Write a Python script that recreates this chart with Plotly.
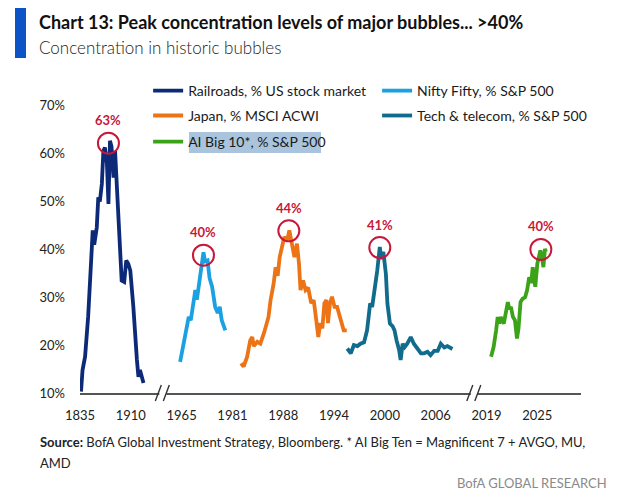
import plotly.graph_objects as go

# broken time axis: position 0..9 carries the labels below
tick_pos = list(range(10))
tick_years = ["1835", "1910", "1965", "1981", "1988", "1994", "2000", "2006", "2019", "2025"]
y_ticks = [10, 20, 30, 40, 50, 60, 70]

# concentration, %
rail_t = [0.02, 0.05, 0.10, 0.16, 0.23, 0.25, 0.28, 0.33, 0.36, 0.39, 0.43, 0.46, 0.49, 0.53, 0.56,
          0.59, 0.62, 0.66, 0.69, 0.72, 0.76, 0.82, 0.87, 0.91, 0.95, 0.99, 1.05, 1.08, 1.12, 1.15,
          1.18, 1.25]
rail_v = [10.3, 14.8, 17.6, 25.9, 39.8, 44.0, 41.0, 44.6, 50.9, 50.0, 53.7, 60.6, 61.3, 58.0, 49.5,
          62.7, 61.5, 55.0, 60.6, 55.0, 46.8, 33.5, 33.2, 37.7, 37.0, 35.6, 28.0, 22.5, 16.9, 13.4,
          14.8, 12.1]

nifty_t = [1.97, 2.03, 2.10, 2.14, 2.18, 2.24, 2.27, 2.30, 2.35, 2.40, 2.43, 2.46, 2.51, 2.55, 2.60,
           2.66, 2.71, 2.75, 2.79, 2.86]
nifty_v = [16.5, 19.6, 23.8, 25.9, 25.2, 29.4, 31.5, 29.5, 33.5, 37.0, 39.4, 37.5, 37.7, 34.0, 32.2,
           28.0, 26.7, 28.0, 25.2, 23.1]

japan_t = [3.17, 3.22, 3.29, 3.35, 3.39, 3.42, 3.49, 3.55, 3.62, 3.71, 3.75, 3.81, 3.85, 3.89, 3.93,
           3.98, 4.02, 4.08, 4.12, 4.17, 4.22, 4.27, 4.31, 4.34, 4.39, 4.44, 4.49, 4.55, 4.60, 4.65,
           4.69, 4.73, 4.77, 4.81, 4.85, 4.88, 4.92, 4.96, 5.01, 5.06, 5.11, 5.16, 5.19, 5.25]
japan_v = [16.2, 15.5, 17.6, 21.0, 21.7, 19.8, 20.7, 20.3, 22.5, 25.9, 29.4, 32.8, 36.3, 34.5, 38.4,
           41.2, 42.6, 42.0, 44.0, 41.2, 38.4, 41.2, 37.0, 31.5, 33.5, 31.5, 32.0, 28.8, 29.4, 25.2,
           21.7, 24.6, 23.5, 28.8, 29.4, 24.6, 28.8, 30.1, 28.0, 28.0, 25.9, 24.6, 23.1, 23.1]

tech_t = [5.26, 5.33, 5.39, 5.46, 5.52, 5.59, 5.65, 5.71, 5.75, 5.80, 5.85, 5.90, 5.93, 5.97, 6.02,
          6.05, 6.10, 6.15, 6.19, 6.23, 6.28, 6.31, 6.35, 6.39, 6.44, 6.51, 6.57, 6.64, 6.71, 6.77,
          6.84, 6.90, 6.97, 7.04, 7.10, 7.17, 7.23, 7.33]
tech_v = [19.3, 18.3, 20.0, 19.8, 20.3, 20.6, 23.1, 28.7, 28.0, 31.5, 35.6, 40.5, 38.0, 39.5, 34.9,
          28.7, 24.5, 24.0, 23.1, 21.0, 19.0, 16.9, 20.3, 19.6, 20.3, 21.7, 20.3, 19.3, 18.3, 18.3,
          18.6, 17.9, 18.8, 18.8, 20.3, 19.5, 19.8, 19.2]

ai_t = [8.09, 8.14, 8.19, 8.22, 8.25, 8.28, 8.34, 8.38, 8.42, 8.45, 8.48, 8.52, 8.56, 8.60, 8.63,
        8.67, 8.71, 8.76, 8.80, 8.84, 8.88, 8.91, 8.96, 9.00, 9.03, 9.06, 9.09, 9.12, 9.15, 9.17]
ai_v = [17.6, 19.6, 23.1, 25.9, 24.5, 25.9, 24.5, 26.6, 29.0, 27.5, 28.0, 25.9, 25.2, 21.4, 23.5,
        29.0, 29.7, 30.0, 31.5, 34.2, 33.0, 36.3, 32.2, 37.0, 38.4, 39.8, 38.5, 36.3, 40.1, 39.5]

peak_t = [0.56, 2.43, 4.11, 5.90, 9.07]
peak_v = [62.2, 38.8, 43.9, 40.4, 40.0]
peak_labels = ["63%", "40%", "44%", "41%", "40%"]

series = [
    ("Railroads, % US stock market", rail_t, rail_v, "#0c2a78"),
    ("Nifty Fifty, % S&P 500", nifty_t, nifty_v, "#1ba1e2"),
    ("Japan, % MSCI ACWI", japan_t, japan_v, "#ec7417"),
    ("Tech & telecom, % S&P 500", tech_t, tech_v, "#106b8c"),
    ("AI Big 10*, % S&P 500", ai_t, ai_v, "#3aa318"),
]
# legend slot of each series: (column x, row y) in plot-area fractions
legend_slots = [(0.136, 0.971), (0.593, 0.971), (0.136, 0.891), (0.593, 0.891), (0.136, 0.807)]

FONT = "Lato"
RED = "#c8173a"

fig = go.Figure()
legends = {}
for i, (name, t, v, col) in enumerate(series):
    key = "legend" if i == 0 else "legend%d" % (i + 1)
    fig.add_trace(go.Scatter(x=t, y=v, name=name, mode="lines", legend=key,
                             line=dict(color=col, width=3.8)))
    lx, ly = legend_slots[i]
    legends[key] = dict(x=lx, y=ly, xanchor="left", yanchor="middle", bgcolor="rgba(0,0,0,0)",
                        itemwidth=30, font=dict(family=FONT, size=14, color="#1a1a1a"))

fig.add_trace(go.Scatter(x=peak_t, y=peak_v, mode="markers", showlegend=False,
                         marker=dict(symbol="circle-open", size=21, color=RED, line=dict(width=2))))
for t, v, lab in zip(peak_t, peak_v, peak_labels):
    fig.add_annotation(x=t, y=v, text="<b>%s</b>" % lab, showarrow=False, yshift=23,
                       font=dict(family=FONT, size=13, color=RED))

# axis break marks
for b in [1.64, 7.77]:
    fig.add_shape(type="rect", xref="x", xsizemode="pixel", xanchor=b, x0=-4, x1=3,
                  yref="paper", ysizemode="pixel", yanchor=0, y0=-2, y1=2,
                  fillcolor="white", line_width=0, layer="above")
    for dx in [-5, 3]:
        fig.add_shape(type="line", xref="x", xsizemode="pixel", xanchor=b, x0=dx - 3, x1=dx + 3,
                      yref="paper", ysizemode="pixel", yanchor=0, y0=-8, y1=8,
                      line=dict(color="#333333", width=1.4), layer="above")

# header
fig.add_shape(type="rect", xref="paper", yref="paper", x0=-0.1297, x1=-0.1078, y0=1.0772, y1=1.2476,
              fillcolor="#0b53c6", line_width=0)
fig.add_annotation(xref="paper", yref="paper", x=-0.0858, y=1.193, xanchor="left", yanchor="middle",
                   showarrow=False, text="<b>Chart 13: Peak concentration levels of major bubbles... >40%</b>",
                   font=dict(family=FONT, size=18, color="#111111"))
fig.add_annotation(xref="paper", yref="paper", x=-0.0858, y=1.1125, xanchor="left", yanchor="middle",
                   showarrow=False, text="Concentration in historic bubbles",
                   font=dict(family=FONT, size=17, color="#222222", weight=300))

# highlight behind the last legend entry
fig.add_shape(type="rect", xref="paper", yref="paper", x0=0.2176, x1=0.481, y0=0.7717, y1=0.8392,
              fillcolor="#a9c4dc", line_width=0)

# footer
fig.add_annotation(xref="paper", yref="paper", x=-0.0838, y=-0.1576, xanchor="left", yanchor="middle",
                   showarrow=False,
                   text="<b>Source:</b> BofA Global Investment Strategy, Bloomberg. * AI Big Ten = Magnificent 7 + AVGO, MU,",
                   font=dict(family=FONT, size=13, color="#222222"))
fig.add_annotation(xref="paper", yref="paper", x=-0.0838, y=-0.2251, xanchor="left", yanchor="middle",
                   showarrow=False, text="AMD", font=dict(family=FONT, size=13, color="#222222"))
fig.add_annotation(xref="paper", yref="paper", x=1.0559, y=-0.2894, xanchor="right", yanchor="middle",
                   showarrow=False, text="BofA GLOBAL RESEARCH", font=dict(family=FONT, size=13, color="#8a8a8a"))

fig.update_layout(
    width=631, height=499,
    # page body adds 8px on the left/top
    margin=dict(l=72, r=58, t=74, b=114),
    paper_bgcolor="white", plot_bgcolor="white",
    font=dict(family=FONT, size=13, color="#222222"),
    xaxis=dict(range=[0, 9.86], tickvals=tick_pos, ticktext=tick_years, showgrid=False, zeroline=False,
               showline=True, linecolor="#555555", linewidth=1.5, ticks="", ticklabelstandoff=10,
               tickfont=dict(family=FONT, size=13, color="#222222")),
    yaxis=dict(range=[10, 75], tickvals=y_ticks, ticktext=["%d%%" % v for v in y_ticks], showgrid=False,
               zeroline=False, showline=False, ticks="", ticklabelstandoff=14,
               tickfont=dict(family=FONT, size=13, color="#222222")),
    **legends,
)

fig.write_html("out.html")
